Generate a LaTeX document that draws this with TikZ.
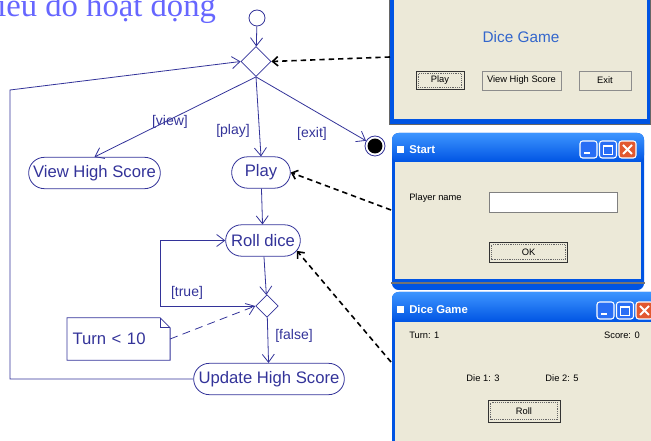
\documentclass[tikz,border=0pt]{standalone}
\usepackage{fontspec}
\setmainfont{Liberation Sans}
\newfontfamily\titlefont{Liberation Serif}
\usetikzlibrary{shapes.geometric, shapes.misc, arrows.meta, positioning, calc}

\definecolor{umlblue}{RGB}{51,51,153}
\definecolor{titleblue}{RGB}{102,102,255}
\definecolor{xpbeige}{RGB}{236,233,216}
\definecolor{xpblue}{RGB}{0,84,227}
\definecolor{xplight}{RGB}{61,149,255}
\definecolor{xpbtn}{RGB}{40,110,245}
\definecolor{xpred}{RGB}{226,88,48}
\definecolor{gametext}{RGB}{51,102,204}

\tikzset{
  activity/.style={rounded rectangle, draw=umlblue, line width=0.6pt, text=umlblue,
    font=\fontsize{12.5}{14}\selectfont, minimum height=23.5pt, inner xsep=2pt},
  branch/.style={diamond, draw=umlblue, line width=0.6pt, inner sep=0pt, aspect=1},
  guard/.style={text=umlblue, font=\fontsize{10.5}{12}\selectfont, inner sep=1pt},
  flow/.style={draw=umlblue, line width=0.6pt, -{Straight Barb[length=6pt,width=9pt]}},
  uilink/.style={draw=black, line width=1.2pt, dash pattern=on 4pt off 3pt,
    -{Straight Barb[length=4pt,width=7pt]}},
  winbtn/.style={fill=xpbeige, draw=black!45, font=\fontsize{7}{8}\selectfont, inner sep=0pt},
  defbtn/.style={winbtn, draw=black!80, line width=0.7pt},
  wintext/.style={font=\fontsize{7}{8}\selectfont, inner sep=0pt},
  wintitle/.style={text=white, font=\bfseries\fontsize{8.5}{10}\selectfont, inner sep=0pt, anchor=west},
}

\begin{document}
\begin{tikzpicture}[x=0.75pt, y=-0.75pt]
    \useasboundingbox (0,0) rectangle (651,441);

    \node[anchor=base west, text=titleblue, inner sep=0pt,
      font=\titlefont\fontsize{24.5}{27}\selectfont] (title) at (-3,16.5) {iểu đồ hoạt động};

    % main menu window
    \fill[black!60] (389,-5) rectangle (651,125);
    \fill[xpblue] (390,-5) rectangle (650,124);
    \fill[xpbeige] (394,-5) rectangle (647,119);
    \node[text=gametext, font=\fontsize{11.5}{13}\selectfont] (gamename) at (521,37) {Dice Game};
    \node[defbtn, minimum width=36pt, minimum height=14pt] (btnplay) at (440,80.5) {Play};
    \node[winbtn, minimum width=59pt, minimum height=14pt] (btnview) at (521.5,80.5) {View High Score};
    \node[winbtn, minimum width=39pt, minimum height=14pt] (btnexit) at (605,80.5) {Exit};
    \draw[black!60, densely dotted, line width=0.4pt] ($(btnplay.north west)+(3,3)$) rectangle ($(btnplay.south east)+(-3,-3)$);

    % start window
    \fill[xpblue, rounded corners=5pt] (392,133) rectangle (644,290);
    \fill[black!55] (391,282) rectangle (645,284);
    \shade[top color=xplight, bottom color=xpblue, rounded corners=5pt] (392,133) rectangle (644,162);
    \fill[xpbeige] (395,162) rectangle (641,279);
    \fill[white] (397,146) rectangle (404,153);
    \node[wintitle] (starttitle) at (409,149.5) {Start};
    \node[wintext, anchor=west] (lblname) at (409,198) {Player name};
    \node[fill=white, draw=black!50, minimum width=96pt, minimum height=15pt, inner sep=0pt] (txtname) at (553,202) {};
    \node[defbtn, minimum width=59pt, minimum height=15pt] (btnok) at (528.5,252) {OK};
    \draw[black!60, densely dotted, line width=0.4pt] ($(btnok.north west)+(3,3)$) rectangle ($(btnok.south east)+(-3,-3)$);

    % dice game window
    \fill[xpblue, rounded corners=5pt] (392,292) rectangle (660,460);
    \shade[top color=xplight, bottom color=xpblue, rounded corners=5pt] (392,292) rectangle (660,322);
    \fill[xpbeige] (395,322) rectangle (660,445);
    \fill[white] (397,306) rectangle (404,313);
    \node[wintitle] (dicetitle) at (409,309.5) {Dice Game};
    \node[wintext, anchor=west] (lblturn) at (409,335) {Turn: 1};
    \node[wintext, anchor=east] (lblscore) at (640,335) {Score: 0};
    \node[wintext] (lbldie1) at (483,378) {Die 1: 3};
    \node[wintext] (lbldie2) at (562,378) {Die 2: 5};
    \node[defbtn, minimum width=54pt, minimum height=16.5pt] (btnroll) at (524,411) {Roll};
    \draw[black!60, densely dotted, line width=0.4pt] ($(btnroll.north west)+(3,3)$) rectangle ($(btnroll.south east)+(-3,-3)$);

    % title bar buttons
    \foreach \x/\y in {580/141, 597/302} {
      \draw[white, fill=xpbtn, rounded corners=2pt, line width=0.8pt] (\x,\y) rectangle ++(17,17);
      \draw[white, fill=xpbtn, rounded corners=2pt, line width=0.8pt] (\x+19.5,\y) rectangle ++(17,17);
      \draw[white, fill=xpred, rounded corners=2pt, line width=0.8pt] (\x+39,\y) rectangle ++(17,17);
      \fill[white] (\x+4,\y+11) rectangle ++(6,2.5);
      \draw[white, line width=0.6pt] (\x+23.5,\y+4) rectangle ++(9,9);
      \fill[white] (\x+23.5,\y+4) rectangle ++(9,2);
      \draw[white, line width=1.4pt] (\x+43,\y+4) -- ++(9,9) ++(0,-9) -- ++(-9,9);
    }

    % activity diagram
    \node[circle, draw=umlblue, line width=0.6pt, minimum size=12pt, inner sep=0pt] (start) at (257,18) {};
    \node[branch, minimum size=22.5pt] (menu) at (256,61.5) {};
    \node[activity, minimum width=102.75pt] (view) at (94.5,173) {View High Score};
    \node[activity, minimum width=48pt] (play) at (261,172.5) {Play};
    \node[circle, draw=umlblue, line width=0.6pt, minimum size=15pt, inner sep=0pt] (stop) at (375,146) {};
    \fill[black] (stop) circle (5.6pt);
    \node[activity, minimum width=60pt] (roll) at (263,240.5) {Roll dice};
    \node[branch, minimum size=17pt] (check) at (267,306) {};
    \node[activity, minimum width=117pt] (update) at (269,379) {Update High Score};
    \node[text=umlblue, font=\fontsize{12.5}{14}\selectfont, text width=69pt, inner xsep=4pt,
      minimum height=31.5pt, align=left] (cond) at (118.5,339) {Turn < 10};
    \draw[umlblue, line width=0.6pt] (cond.north west) -- ($(cond.north east)+(-10,0)$)
      -- ($(cond.north east)+(0,10)$) -- (cond.south east) -- (cond.south west) -- cycle;
    \draw[umlblue, line width=0.6pt] ($(cond.north east)+(-10,0)$) |- ($(cond.north east)+(0,10)$);

    \node[guard] (gview) at (170,122) {[view]};
    \node[guard] (gplay) at (233,131) {[play]};
    \node[guard] (gexit) at (312,134) {[exit]};
    \node[guard] (gtrue) at (187,293) {[true]};
    \node[guard] (gfalse) at (294,336) {[false]};

    \draw[flow] (start) -- (menu);
    \draw[flow] (menu.south) -- (view.north);
    \draw[flow] (menu.south) -- (play.north);
    \draw[flow] (menu.south) -- (stop);
    \draw[flow] (play) -- (roll);
    \draw[flow] (roll) -- (check);
    \draw[flow] (check.west) -- (160,306) |- (roll.west);
    \draw[flow] (check) -- (update);
    \draw[flow] (update.west) -| (10,90) -- (menu.west);
    \draw[flow, dash pattern=on 6pt off 4pt] (cond.east) -- (check.west);

    \coordinate (mainwin) at (390,57);
    \coordinate (startwin) at (391,210);
    \coordinate (dicewin) at (391,362);
    \draw[uilink] (mainwin) -- (menu.east);
    \draw[uilink] (startwin) -- (play.east);
    \draw[uilink] (dicewin) -- (roll.-17);
\end{tikzpicture}
\end{document}
